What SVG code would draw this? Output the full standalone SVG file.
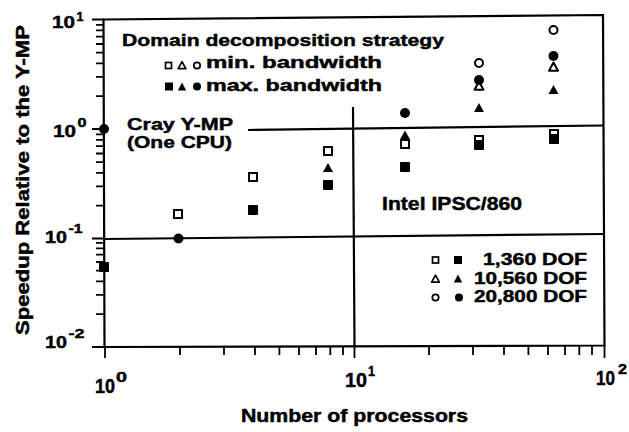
<svg xmlns="http://www.w3.org/2000/svg" width="629" height="432" viewBox="0 0 629 432">
<style>
text{font-family:"Liberation Sans",Arial,Helvetica,sans-serif;font-weight:bold;fill:#000;stroke:#000;stroke-width:0.45}
.f17{font-size:17px}
.f18{font-size:18px}
.f20{font-size:20px}
.s13{font-size:13px}
.s14{font-size:14px}
.ln{stroke:#000;stroke-width:2.2;fill:none}
.tk{stroke:#000;stroke-width:1.8;fill:none}
.of{fill:#fff;stroke:#000;stroke-width:2}
.ofs{fill:#fff;stroke:#000;stroke-width:1.7}
</style>
<defs>
<rect id="osq" x="-4" y="-4" width="8" height="8" class="of"/>
<rect id="fsq" x="-5" y="-5" width="10" height="10" rx="1"/>
<circle id="ocir" r="4" class="of"/>
<circle id="fcir" r="5"/>
<path id="otri" d="M0,-4.5 L4.5,3.8 L-4.5,3.8Z" class="of" stroke-linejoin="round"/>
<path id="ftri" d="M0,-5 L5,4 L-5,4Z"/>
<rect id="osqS" x="-3" y="-3" width="6" height="6" class="ofs"/>
<rect id="fsqS" x="-4" y="-4" width="8" height="8"/>
<circle id="ocirS" r="3.2" class="ofs"/>
<circle id="fcirS" r="4"/>
<path id="otriS" d="M0,-3.8 L3.8,3.2 L-3.8,3.2Z" class="ofs" stroke-linejoin="round"/>
<path id="ftriS" d="M0,-4.5 L4.2,3.5 L-4.2,3.5Z"/>
</defs>
<rect x="0" y="0" width="629" height="432" fill="#fff"/>

<g id="frame">
<polygon points="103.5,19.5 603,15 604.5,345.5 104.5,347" class="ln"/>
</g>

<g id="ticks">
<path class="tk" d="M92,19.5H104 M96,24.8H104 M96,30.4H104 M96,36.7H104 M96,44H104 M96,52.7H104 M96,63.3H104 M96,76.9H104 M96,96.1H104
M92,129H104 M96,134.3H104 M96,139.9H104 M96,146.2H104 M96,153.5H104 M96,162.2H104 M96,172.8H104 M96,186.4H104 M96,205.6H104
M92,238.5H104 M96,242.8H104 M96,248.4H104 M96,254.7H104 M96,262H104 M96,270.7H104 M96,281.3H104 M96,294.9H104 M96,314.1H104
M92,347H104"/>
<path class="tk" d="M105,346V358 M180,346V355 M224,346V355 M255,346V355 M279.4,346V355 M299,346V355 M316,346V355 M330.3,346V355 M343,346V355
M354.5,346V358 M429,346V355 M473,346V355 M504,346V355 M528.4,346V355 M548,346V355 M565,346V355 M579.3,346V355 M592,346V355 M604.5,345V358"/>
</g>

<g id="reflines">
<line x1="248" y1="130" x2="603" y2="125.5" class="ln"/>
<line x1="104" y1="239" x2="603.5" y2="234" class="ln"/>
<line x1="353" y1="107" x2="354.5" y2="346" class="ln"/>
</g>

<g id="axis-labels">
<text class="f17" x="52" y="28" textLength="23" lengthAdjust="spacingAndGlyphs">10</text>
<text class="s13" x="76.5" y="21" textLength="7" lengthAdjust="spacingAndGlyphs">1</text>
<text class="f17" x="53" y="137" textLength="23" lengthAdjust="spacingAndGlyphs">10</text>
<text class="s13" x="77.5" y="127" textLength="9" lengthAdjust="spacingAndGlyphs">0</text>
<text class="f17" x="45" y="243" textLength="22" lengthAdjust="spacingAndGlyphs">10</text>
<text class="s13" x="68.5" y="233" textLength="14" lengthAdjust="spacingAndGlyphs">-1</text>
<text class="f17" x="45" y="348" textLength="22" lengthAdjust="spacingAndGlyphs">10</text>
<text class="s13" x="68.5" y="338" textLength="16" lengthAdjust="spacingAndGlyphs">-2</text>
<text class="f20" x="95" y="393" textLength="20" lengthAdjust="spacingAndGlyphs">10</text>
<text class="s14" x="116" y="382" textLength="11" lengthAdjust="spacingAndGlyphs">0</text>
<text class="f20" x="345" y="387" textLength="22" lengthAdjust="spacingAndGlyphs">10</text>
<text class="s14" x="368" y="376" textLength="7" lengthAdjust="spacingAndGlyphs">1</text>
<text class="f20" x="596" y="385" textLength="19" lengthAdjust="spacingAndGlyphs">10</text>
<text class="s14" x="618" y="374" textLength="9" lengthAdjust="spacingAndGlyphs">2</text>
<text class="f18" x="241" y="422" textLength="227" lengthAdjust="spacingAndGlyphs">Number of processors</text>
<text class="f18" transform="translate(29,180) rotate(-90)" text-anchor="middle" textLength="310" lengthAdjust="spacingAndGlyphs">Speedup Relative to the Y-MP</text>
</g>

<g id="annotations">
<text class="f17" x="127" y="130" textLength="106" lengthAdjust="spacingAndGlyphs">Cray Y-MP</text>
<text class="f17" x="127" y="148" textLength="105" lengthAdjust="spacingAndGlyphs">(One CPU)</text>
<text class="f18" x="382" y="210" textLength="140" lengthAdjust="spacingAndGlyphs">Intel IPSC/860</text>
</g>

<g id="legend-strategy">
<text class="f17" x="122" y="46" textLength="322" lengthAdjust="spacingAndGlyphs">Domain decomposition strategy</text>
<use href="#osqS" x="168.5" y="65.5"/>
<use href="#otriS" x="182" y="65.5"/>
<use href="#ocirS" x="197" y="65.5"/>
<text class="f17" x="206" y="68" textLength="176" lengthAdjust="spacingAndGlyphs">min. bandwidth</text>
<use href="#fsqS" x="169" y="86.5"/>
<use href="#ftriS" x="182" y="87"/>
<use href="#fcirS" x="197" y="86.5"/>
<text class="f17" x="206" y="91" textLength="176" lengthAdjust="spacingAndGlyphs">max. bandwidth</text>
</g>

<g id="legend-dof">
<use href="#osqS" x="435.5" y="260"/>
<use href="#fsqS" x="458" y="260"/>
<text class="f17" x="587" y="265" text-anchor="end" textLength="104" lengthAdjust="spacingAndGlyphs">1,360 DOF</text>
<use href="#otriS" x="435.5" y="279"/>
<use href="#ftriS" x="458" y="279"/>
<text class="f17" x="587" y="283.5" text-anchor="end" textLength="113" lengthAdjust="spacingAndGlyphs">10,560 DOF</text>
<use href="#ocirS" x="435.5" y="297.5"/>
<use href="#fcirS" x="459" y="297.5"/>
<text class="f17" x="587" y="302" text-anchor="end" textLength="113" lengthAdjust="spacingAndGlyphs">20,800 DOF</text>
</g>

<g id="data">
<use href="#fcir" x="104" y="129"/>
<use href="#fsq" x="104" y="267"/>
<use href="#osq" x="178" y="214"/>
<use href="#fcir" x="178.5" y="238.5"/>
<use href="#osq" x="253" y="177"/>
<use href="#fsq" x="253" y="210"/>
<use href="#osq" x="328" y="151"/>
<use href="#ftri" x="328" y="168"/>
<use href="#fsq" x="328" y="185"/>
<use href="#fcir" x="405" y="113"/>
<use href="#osq" x="405" y="144"/>
<use href="#ftri" x="405" y="135.5"/>
<use href="#fsq" x="405" y="167"/>
<use href="#ocir" x="479" y="63"/>
<use href="#otri" x="479" y="86"/>
<use href="#fcir" x="479" y="80"/>
<use href="#ftri" x="479" y="108"/>
<use href="#osq" x="479" y="140"/>
<use href="#fsq" x="479" y="145"/>
<use href="#ocir" x="553.5" y="30"/>
<use href="#otri" x="553.5" y="67"/>
<use href="#fcir" x="553.5" y="56"/>
<use href="#ftri" x="553.5" y="90"/>
<use href="#osq" x="554" y="134"/>
<use href="#fsq" x="554" y="139"/>
</g>
</svg>
